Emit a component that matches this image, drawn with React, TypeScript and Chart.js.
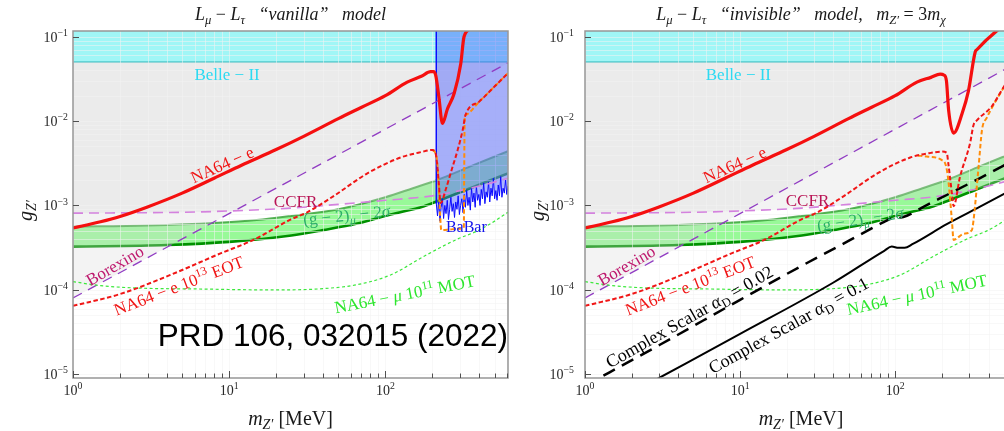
import React, { useEffect, useRef } from 'react';
import { Chart, registerables } from 'chart.js';

Chart.register(...registerables);

// ---------- axes ----------
const X_MIN = 1;
const X_MAX = 610;
const Y_MIN = 9.0e-6;
const Y_MAX = 0.117;
const X_GRID = [1, 2, 3, 4, 5, 6, 7, 8, 9, 10, 20, 30, 40, 50, 60, 70, 80, 90, 100, 200, 300, 400, 500, 600];
const X_MAJOR = [1, 10, 100];
const X_MAJOR_EXP = ['0', '1', '2'];
const Y_DECADES = [1e-6, 1e-5, 1e-4, 1e-3, 1e-2, 1e-1];
const Y_MULT = [1, 2, 3, 4, 5, 6, 7, 8, 9];
const Y_MAJOR = [1e-5, 1e-4, 1e-3, 1e-2, 1e-1];
const Y_MAJOR_EXP = ['−5', '−4', '−3', '−2', '−1'];

// ---------- data ----------
const BELLE_M = [1, 610];
const BELLE_G = [0.05, 0.05];

const BX_M = [1, 610];
const BX_G = [8.0e-5, 4.9e-2];

const CC_M = [1, 5, 10, 25, 50, 100, 200, 300, 450, 610];
const CC_G = [8.1e-4, 8.3e-4, 8.6e-4, 9.3e-4, 1.03e-3, 1.15e-3, 1.3e-3, 1.5e-3, 1.8e-3, 2.1e-3];

const BU_M = [1, 3, 8, 15, 25, 50, 100, 150, 215, 350, 610];
const BU_G = [5.6e-4, 5.8e-4, 6.2e-4, 6.7e-4, 7.5e-4, 9.0e-4, 1.25e-3, 1.6e-3, 2.0e-3, 2.9e-3, 4.4e-3];
const BL_M = [1, 4, 10, 25, 40, 66, 108, 177, 215, 350, 610];
const BL_G = [3.25e-4, 3.4e-4, 3.7e-4, 4.4e-4, 5.1e-4, 6.1e-4, 7.8e-4, 9.8e-4, 1.12e-3, 1.6e-3, 2.4e-3];

const MU_M = [1, 1.5, 2.57, 6.9, 15, 25, 45, 66, 108, 177, 290, 390, 473, 610];
const MU_G = [1.25e-4, 1.12e-4, 1.05e-4, 1.02e-4, 1.0e-4, 1.0e-4, 1.05e-4, 1.15e-4, 1.5e-4, 2.5e-4, 4.0e-4, 5.0e-4, 6.1e-4, 8.3e-4];

// left panel ("vanilla")
const NA64E_M = [1, 1.5, 2, 3, 5, 8, 12, 20, 30, 50, 70, 100, 138, 170, 195, 203, 210, 220, 232, 250, 276, 304, 319, 352];
const NA64E_G = [5.4e-4, 6.4e-4, 7.4e-4, 9.6e-4, 1.4e-3, 2.1e-3, 3.0e-3, 4.6e-3, 6.6e-3, 1.07e-2, 1.45e-2, 2.0e-2, 2.9e-2, 3.4e-2, 3.85e-2, 3.85e-2, 3.5e-2, 1.95e-2, 9.4e-3, 1.4e-2, 2.14e-2, 4.8e-2, 1.0e-1, 1.25e-1];

const EOT_M = [1, 2, 4.2, 8.8, 14.3, 24.7, 31.6, 46.9, 76.7, 125, 170, 200, 210, 215, 220, 226, 245, 265, 290, 313, 326, 400, 500, 610];
const EOT_G = [6.45e-5, 8.9e-5, 1.5e-4, 2.7e-4, 3.9e-4, 6.8e-4, 8.3e-4, 1.3e-3, 2.4e-3, 3.7e-3, 4.3e-3, 4.55e-3, 4.1e-3, 3.0e-3, 1.8e-3, 1.07e-3, 1.6e-3, 2.6e-3, 4.5e-3, 7.9e-3, 1.18e-2, 1.71e-2, 2.57e-2, 3.7e-2];

const OR_M = [200, 210, 215, 220, 224, 228, 260, 300, 318, 320, 322, 326, 400, 500, 610];
const OR_G = [4.55e-3, 4.1e-3, 3.2e-3, 1.6e-3, 8.0e-4, 5.1e-4, 5.2e-4, 5.3e-4, 5.4e-4, 3.0e-3, 1.1e-2, 1.18e-2, 1.71e-2, 2.57e-2, 3.7e-2];

const BABAR_M = [212, 212, 215.8, 219.7, 223.7, 227.7, 231.8, 236.0, 240.3, 244.6, 249.1, 253.6, 258.1, 262.8, 267.5, 272.4, 277.3, 282.3, 287.4, 292.6, 297.9, 303.3, 308.8, 314.4, 320.0, 325.8, 331.7, 337.7, 343.8, 350.0, 356.3, 362.8, 369.3, 376.0, 382.8, 389.7, 396.8, 403.9, 411.2, 418.7, 426.2, 433.9, 441.8, 449.8, 457.9, 466.2, 474.6, 483.2, 491.9, 500.8, 509.9, 519.1, 528.4, 538.0, 547.7, 557.6, 567.6, 577.9, 588.3, 598.9, 610];
const BABAR_G = [0.2, 1.05e-3, 7.5e-4, 1.1e-3, 6.5e-4, 9.5e-4, 1.2e-3, 7.0e-4, 1.0e-3, 8.0e-4, 1.15e-3, 6.8e-4, 9.0e-4, 1.25e-3, 8.5e-4, 1.05e-3, 7.2e-4, 1.1e-3, 9.0e-4, 1.3e-3, 7.8e-4, 1.0e-3, 1.2e-3, 8.2e-4, 1.35e-3, 9.5e-4, 1.5e-3, 1.0e-3, 1.25e-3, 8.8e-4, 1.6e-3, 1.1e-3, 1.4e-3, 9.5e-4, 1.7e-3, 1.15e-3, 1.35e-3, 1.0e-3, 1.55e-3, 1.2e-3, 1.85e-3, 1.05e-3, 1.45e-3, 1.25e-3, 1.9e-3, 1.1e-3, 1.6e-3, 1.3e-3, 2.1e-3, 1.2e-3, 1.5e-3, 1.15e-3, 1.75e-3, 1.3e-3, 2.2e-3, 1.25e-3, 1.6e-3, 1.4e-3, 2.0e-3, 1.35e-3, 1.7e-3];

// right panel ("invisible")
const NA64E_R_M = [1, 1.5, 2, 3, 5, 8, 12, 20, 30, 50, 70, 100, 138, 170, 195, 207, 214, 221, 238, 270, 297, 328, 336, 453, 520];
const NA64E_R_G = [5.4e-4, 6.4e-4, 7.4e-4, 9.6e-4, 1.4e-3, 2.1e-3, 3.0e-3, 4.6e-3, 6.6e-3, 1.07e-2, 1.45e-2, 2.0e-2, 2.9e-2, 3.3e-2, 3.6e-2, 3.5e-2, 3.0e-2, 1.35e-2, 7.2e-3, 1.23e-2, 2.3e-2, 6.6e-2, 7.0e-2, 1.18e-1, 1.4e-1];

const EOT_R_M = [1, 2, 4.2, 8.8, 14.3, 24.7, 31.6, 46.9, 76.7, 125, 170, 200, 215, 220, 232, 238, 262, 304, 320, 336, 420, 505, 610];
const EOT_R_G = [6.45e-5, 8.9e-5, 1.5e-4, 2.7e-4, 3.9e-4, 6.8e-4, 8.3e-4, 1.3e-3, 2.4e-3, 3.7e-3, 4.2e-3, 4.35e-3, 4.2e-3, 3.16e-3, 1.4e-3, 9.8e-4, 2.2e-3, 5.5e-3, 9.0e-3, 1.02e-2, 1.5e-2, 2.6e-2, 4.2e-2];

const OR_R_M = [140, 160, 200, 212, 220, 232, 238, 275, 312, 320, 345, 363, 390, 430, 505, 610];
const OR_R_G = [3.9e-3, 3.8e-3, 3.45e-3, 3.0e-3, 2.0e-3, 6.7e-4, 3.9e-4, 4.6e-4, 5.1e-4, 6.7e-4, 2.9e-3, 7.9e-3, 1.1e-2, 1.55e-2, 2.55e-2, 4.1e-2];

const CS2_M = [1, 3, 10, 24, 50, 85, 95, 105, 120, 150, 215, 350, 610];
const CS2_G = [7.3e-6, 2.2e-5, 7.6e-5, 1.85e-4, 3.8e-4, 6.4e-4, 7.0e-4, 7.1e-4, 7.6e-4, 9.5e-4, 1.33e-3, 2.1e-3, 3.6e-3];
const CS1_M = [2, 3, 10, 40, 85, 95, 105, 115, 130, 215, 350, 610];
const CS1_G = [6.0e-6, 9.0e-6, 3.0e-5, 1.22e-4, 2.9e-4, 3.25e-4, 3.15e-4, 3.15e-4, 3.5e-4, 6.0e-4, 9.6e-4, 1.65e-3];

// ---------- styles ----------
const SERIF = "'Liberation Serif', 'DejaVu Serif', serif";
const SANS = "'Liberation Sans', Arial, sans-serif";
const RED = 'rgb(240,22,22)';
const GRAY = 'rgba(214,214,214,0.29)';

type Seg = [string, string?];

const EOT_SEGS: Seg[] = [['NA64 − e 10', ''], ['13', 'p'], [' EOT', '']];
const MOT_SEGS: Seg[] = [['NA64 − ', ''], ['μ', 'i'], [' 10', ''], ['11', 'p'], [' MOT', '']];
const G2_SEGS: Seg[] = [['(g − 2)', ''], ['μ', 'ib'], [' − 2', ''], ['σ', 'i']];

function drawRich(ctx: CanvasRenderingContext2D, segs: Seg[], x: number, y: number, size: number, color: string, angle = 0, align = 'center', fam = SERIF) {
  ctx.save();
  ctx.translate(x, y);
  if (angle) ctx.rotate((angle * Math.PI) / 180);
  ctx.fillStyle = color;
  ctx.textAlign = 'left';
  ctx.textBaseline = 'alphabetic';
  const parts = segs.map(([t, f = '']) => {
    const small = f.includes('b') || f.includes('p');
    const sz = small ? size * 0.7 : size;
    const font = `${f.includes('i') ? 'italic ' : ''}${sz}px ${fam}`;
    ctx.font = font;
    const dy = f.includes('b') ? size * 0.22 : f.includes('p') ? -size * 0.4 : 0;
    return { t, font, dy, w: ctx.measureText(t).width };
  });
  const total = parts.reduce((s, p) => s + p.w, 0);
  let cx = align === 'center' ? -total / 2 : align === 'right' ? -total : 0;
  const by = size * 0.34;
  for (const p of parts) {
    ctx.font = p.font;
    ctx.fillText(p.t, cx, by + p.dy);
    cx += p.w;
  }
  ctx.restore();
}

const P = (xs: number[], ys: number[]) => xs.map((x, i) => ({ x, y: ys[i] }));
const base = { pointRadius: 0, pointHoverRadius: 0, fill: false, cubicInterpolationMode: 'monotone' };
const NONE = 'rgba(0,0,0,0)';

function bottomLayers(): any[] {
  return [
    { ...base, data: P(BU_M, BU_G), borderColor: 'rgba(60,165,60,0.85)', borderWidth: 2, fill: '+1', backgroundColor: 'rgba(40,242,40,0.48)', order: 100 },
    { ...base, data: P(BL_M, BL_G), borderColor: 'rgb(0,145,0)', borderWidth: 2.6, order: 99 },
    { ...base, data: P(BX_M, BX_G), borderColor: NONE, borderWidth: 1, fill: { value: BELLE_G[0] }, backgroundColor: GRAY, order: 98 },
    { ...base, data: P(CC_M, CC_G), borderColor: NONE, borderWidth: 1, fill: { value: BELLE_G[0] }, backgroundColor: GRAY, order: 97 },
    { ...base, data: P(BELLE_M, BELLE_G), borderColor: 'rgb(40,178,182)', borderWidth: 1.5, fill: 'end', backgroundColor: 'rgb(160,246,246)', order: 96, gridAfter: true },
  ];
}

function commonLines(): any[] {
  return [
    { ...base, data: P(BX_M, BX_G), borderColor: 'rgb(145,60,195)', borderWidth: 1.3, borderDash: [10, 7], order: 50 },
    { ...base, data: P(CC_M, CC_G), borderColor: 'rgb(212,130,222)', borderWidth: 1.6, borderDash: [10, 6], order: 49 },
    { ...base, data: P(MU_M, MU_G), borderColor: 'rgb(60,232,60)', borderWidth: 1.2, borderDash: [3, 2.5], order: 48 },
  ];
}

const LEFT = {
  padR: 12,
  yW: 73,
  yTickPad: 5,
  title: [['L', 'i'], ['μ', 'ib'], [' − ', ''], ['L', 'i'], ['τ', 'ib'], ['   “vanilla”   model', 'i']] as Seg[],
  prd: true,
  datasets: () => [
    ...bottomLayers(),
    { ...base, cubicInterpolationMode: 'default', tension: 0, data: P(BABAR_M, BABAR_G), borderColor: 'rgb(10,10,255)', borderWidth: 1, fill: 'end', backgroundColor: 'rgba(70,90,255,0.45)', order: 95 },
    ...commonLines(),
    { ...base, data: P(OR_M, OR_G), borderColor: 'rgb(255,140,10)', borderWidth: 2, borderDash: [4.5, 2.5], order: 45 },
    { ...base, data: P(EOT_M, EOT_G), borderColor: RED, borderWidth: 2, borderDash: [4.5, 2.5], order: 44 },
    { ...base, data: P(NA64E_M, NA64E_G), borderColor: 'rgb(245,15,15)', borderWidth: 3.2, order: 43 },
  ],
  labels: [
    { m: 9.7, g: 0.0361, segs: [['Belle − II', '']] as Seg[], size: 17, color: 'rgb(45,218,242)', angle: 0 },
    { m: 9.0, g: 3.05e-3, segs: [['NA64 − e', '']] as Seg[], size: 17, color: RED, angle: -24 },
    { m: 26.6, g: 1.13e-3, segs: [['CCFR', '']] as Seg[], size: 17, color: 'rgb(185,20,85)', angle: 0 },
    { m: 1.85, g: 1.95e-4, segs: [['Borexino', '']] as Seg[], size: 17, color: 'rgb(190,25,110)', angle: -30 },
    { m: 4.75, g: 1.12e-4, segs: EOT_SEGS, size: 17, color: RED, angle: -21 },
    { m: 133, g: 8.9e-5, segs: MOT_SEGS, size: 17, color: 'rgb(45,230,45)', angle: -11 },
    { m: 330, g: 5.6e-4, segs: [['BaBar', '']] as Seg[], size: 16, color: 'rgb(20,20,235)', angle: 0 },
    { m: 56.5, g: 7.7e-4, segs: G2_SEGS, size: 17, color: 'rgb(45,175,105)', angle: -6 },
  ],
};

const RIGHT = {
  padR: 23,
  yW: 65,
  yTickPad: 11,
  title: [['L', 'i'], ['μ', 'ib'], [' − ', ''], ['L', 'i'], ['τ', 'ib'], ['   “invisible”   model,   ', 'i'], ['m', 'i'], ['Z′', 'ib'], [' = 3', ''], ['m', 'i'], ['χ', 'ib']] as Seg[],
  prd: false,
  datasets: () => [
    ...bottomLayers(),
    ...commonLines(),
    { ...base, data: P(CS2_M, CS2_G), borderColor: 'rgb(0,0,0)', borderWidth: 2.5, borderDash: [13, 8], order: 47 },
    { ...base, data: P(CS1_M, CS1_G), borderColor: 'rgb(0,0,0)', borderWidth: 2, order: 46 },
    { ...base, data: P(OR_R_M, OR_R_G), borderColor: 'rgb(255,140,10)', borderWidth: 2, borderDash: [4.5, 2.5], order: 45 },
    { ...base, data: P(EOT_R_M, EOT_R_G), borderColor: RED, borderWidth: 2, borderDash: [4.5, 2.5], order: 44 },
    { ...base, data: P(NA64E_R_M, NA64E_R_G), borderColor: 'rgb(245,15,15)', borderWidth: 3.2, order: 43 },
  ],
  labels: [
    { m: 9.75, g: 0.0361, segs: [['Belle − II', '']] as Seg[], size: 17, color: 'rgb(45,218,242)', angle: 0 },
    { m: 9.2, g: 3.05e-3, segs: [['NA64 − e', '']] as Seg[], size: 17, color: RED, angle: -24 },
    { m: 27.2, g: 1.15e-3, segs: [['CCFR', '']] as Seg[], size: 17, color: 'rgb(185,20,85)', angle: 0 },
    { m: 1.85, g: 1.95e-4, segs: [['Borexino', '']] as Seg[], size: 17, color: 'rgb(190,25,110)', angle: -30 },
    { m: 4.76, g: 1.12e-4, segs: EOT_SEGS, size: 17, color: RED, angle: -21 },
    { m: 138, g: 8.8e-5, segs: MOT_SEGS, size: 17, color: 'rgb(45,230,45)', angle: -12 },
    { m: 59.5, g: 6.9e-4, segs: G2_SEGS, size: 17, color: 'rgb(45,175,105)', angle: -9 },
    { m: 4.7, g: 4.8e-5, segs: [['Complex Scalar ', ''], ['α', 'i'], ['D', 'b'], [' = 0.02', '']] as Seg[], size: 18, color: '#000', angle: -29.5 },
    { m: 20.5, g: 3.8e-5, segs: [['Complex Scalar ', ''], ['α', 'i'], ['D', 'b'], [' = 0.1', '']] as Seg[], size: 18, color: '#000', angle: -29 },
  ],
};

function drawGrid(chart: any) {
  const { ctx, chartArea: a, scales } = chart;
  const xs = scales.x;
  const ys = scales.y;
  ctx.save();
  ctx.beginPath();
  ctx.rect(a.left, a.top, a.right - a.left, a.bottom - a.top);
  ctx.clip();
  ctx.strokeStyle = 'rgba(242,242,242,0.55)';
  ctx.lineWidth = 1;
  ctx.beginPath();
  for (const v of X_GRID) {
    const px = Math.round(xs.getPixelForValue(v)) + 0.5;
    ctx.moveTo(px, a.top);
    ctx.lineTo(px, a.bottom);
  }
  for (const d of Y_DECADES) {
    for (const k of Y_MULT) {
      const v = d * k;
      if (v < Y_MIN || v > Y_MAX) continue;
      const py = Math.round(ys.getPixelForValue(v)) + 0.5;
      ctx.moveTo(a.left, py);
      ctx.lineTo(a.right, py);
    }
  }
  ctx.stroke();
  ctx.restore();
}

function makePlugin(cfg: any) {
  return {
    id: 'deco',
    afterDatasetDraw(chart: any, args: any) {
      const ds = chart.data.datasets[args.index];
      if (ds && ds.gridAfter) drawGrid(chart);
    },
    afterDatasetsDraw(chart: any) {
      const { ctx, chartArea: a, scales } = chart;
      const xs = scales.x;
      const ys = scales.y;
      // frame
      ctx.save();
      ctx.strokeStyle = 'rgb(150,150,150)';
      ctx.lineWidth = 1.5;
      ctx.strokeRect(a.left, a.top, a.right - a.left, a.bottom - a.top);
      // ticks
      ctx.strokeStyle = 'rgb(80,80,80)';
      ctx.lineWidth = 1;
      ctx.beginPath();
      for (const v of X_GRID) {
        const px = Math.round(xs.getPixelForValue(v)) + 0.5;
        const len = X_MAJOR.includes(v) ? 7 : 4.5;
        ctx.moveTo(px, a.bottom);
        ctx.lineTo(px, a.bottom - len);
      }
      for (const v of Y_MAJOR) {
        const py = Math.round(ys.getPixelForValue(v)) + 0.5;
        ctx.moveTo(a.left, py);
        ctx.lineTo(a.left + 6, py);
      }
      ctx.stroke();
      ctx.restore();

      // tick labels
      X_MAJOR.forEach((v, i) => {
        drawRich(ctx, [['10', ''], [X_MAJOR_EXP[i], 'p']], xs.getPixelForValue(v), a.bottom + 12, 14, 'rgb(40,40,40)');
      });
      Y_MAJOR.forEach((v, i) => {
        drawRich(ctx, [['10', ''], [Y_MAJOR_EXP[i], 'p']], a.left - cfg.yTickPad, ys.getPixelForValue(v), 14, 'rgb(40,40,40)', 0, 'right');
      });

      // in-plot labels
      ctx.save();
      ctx.beginPath();
      ctx.rect(a.left, a.top, a.right - a.left, a.bottom - a.top);
      ctx.clip();
      for (const L of cfg.labels) {
        drawRich(ctx, L.segs, xs.getPixelForValue(L.m), ys.getPixelForValue(L.g), L.size, L.color, L.angle);
      }
      if (cfg.prd) {
        drawRich(ctx, [['PRD 106, 032015 (2022)', '']], xs.getPixelForValue(X_MAX), ys.getPixelForValue(2.85e-5), 31.5, '#000', 0, 'right', SANS);
      }
      ctx.restore();

      // titles
      const cx = (a.left + a.right) / 2;
      drawRich(ctx, cfg.title, cx, 14, 18, 'rgb(25,25,25)');
      drawRich(ctx, [['m', 'i'], ['Z′', 'ib'], [' [MeV]', '']], cx, a.bottom + 40, 20, 'rgb(25,25,25)');
      drawRich(ctx, [['g', 'i'], ['Z′', 'ib']], a.left - 48, (a.top + a.bottom) / 2 + 6, 20, 'rgb(25,25,25)', -90);
    },
  };
}

function Panel({ cfg, left }: { cfg: any; left: number }) {
  const ref = useRef<HTMLCanvasElement>(null);
  useEffect(() => {
    const chart = new Chart(ref.current as HTMLCanvasElement, {
      type: 'line',
      data: { datasets: cfg.datasets() },
      options: {
        responsive: false,
        animation: false,
        devicePixelRatio: 1,
        events: [],
        layout: { padding: { left: 0, right: cfg.padR, top: 31, bottom: 23 } },
        plugins: {
          legend: { display: false },
          tooltip: { enabled: false },
          title: { display: false },
        },
        scales: {
          x: {
            type: 'logarithmic',
            min: X_MIN,
            max: X_MAX,
            ticks: { display: false },
            grid: { display: false },
            border: { display: false },
            afterFit: (s: any) => { s.height = 30; },
          },
          y: {
            type: 'logarithmic',
            min: Y_MIN,
            max: Y_MAX,
            ticks: { display: false },
            grid: { display: false },
            border: { display: false },
            afterFit: (s: any) => { s.width = cfg.yW; },
          },
        },
      } as any,
      plugins: [makePlugin(cfg)],
    } as any);
    return () => chart.destroy();
  }, []);
  return <canvas ref={ref} width={520} height={431} style={{ position: 'absolute', left, top: 0 }} />;
}

export default function App() {
  return (
    <div style={{ position: 'absolute', left: 0, top: 0, width: 1004, height: 431, overflow: 'hidden', background: '#fff' }}>
      <Panel cfg={LEFT} left={0} />
      <Panel cfg={RIGHT} left={520} />
    </div>
  );
}
